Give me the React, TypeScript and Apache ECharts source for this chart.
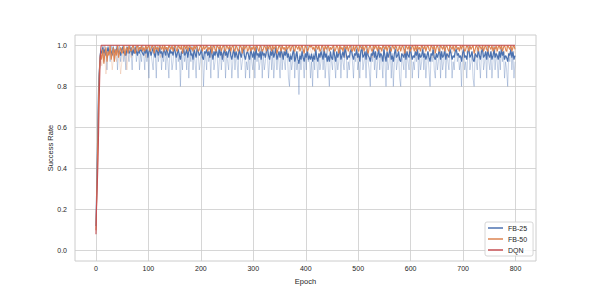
import React, { useEffect, useRef } from "react";
import * as echarts from "echarts";

// x positions: every epoch during the initial ramp, then every 2nd / 4th epoch
const rampEpochs = [0, 1, 2, 3, 4, 5, 6, 7, 8, 9, 10];
const epochsStep2 = Array.from({ length: 395 }, (_, i) => 11 + 2 * i);
const epochsStep4 = Array.from({ length: 198 }, (_, i) => 11 + 4 * i);

const xTicks = [0, 100, 200, 300, 400, 500, 600, 700, 800];
const yTicks = [0, 0.2, 0.4, 0.6, 0.8, 1.0];

// ramp values (success rate) for epochs 0..10
const fb25Ramp = [0.12, 0.25, 0.38, 0.52, 0.66, 0.8, 0.86, 0.9, 0.95, 0.97, 0.96];
const fb50Ramp = [0.1, 0.22, 0.35, 0.48, 0.6, 0.74, 0.84, 0.9, 0.94, 0.96, 0.93];

// DQN: ramp then flat at 1.0
const dqnEpochs = [0, 1, 2, 3, 4, 5, 6, 7, 8, 9, 10, 799];
const dqnRate = [0.08, 0.2, 0.28, 0.36, 0.45, 0.58, 0.72, 0.83, 0.93, 0.98, 1.0, 1.0];

// FB-25 (percent) at epochsStep2
const fb25Main = [
  97, 99, 96, 98, 95, 97, 99, 96, 98, 97, 95, 99, 97, 96, 98, 99, 96, 97, 95, 98,
  99, 96, 97, 95, 98, 99, 96, 97, 99, 95, 98, 96, 99, 97, 95, 98, 96, 99, 97, 96,
  95, 98, 96, 99, 94, 97, 98, 95, 97, 99, 96, 94, 98, 97, 95, 99, 96, 97, 94, 98,
  97, 95, 99, 96, 94, 98, 96, 97, 95, 99, 97, 94, 96, 98, 95, 93, 97, 96, 99, 95,
  96, 98, 94, 97, 99, 95, 96, 93, 98, 96, 94, 99, 97, 95, 96, 98, 94, 93, 97, 96,
  98, 95, 97, 94, 99, 96, 93, 97, 95, 98, 96, 94, 99, 95, 97, 93, 96, 98, 95, 97,
  94, 97, 99, 95, 93, 96, 98, 94, 97, 95, 93, 98, 96, 94, 97, 99, 95, 93, 96, 97,
  95, 93, 98, 96, 94, 97, 93, 99, 95, 96, 94, 97, 93, 98, 95, 96, 94, 97, 99, 95,
  93, 97, 95, 98, 94, 96, 99, 93, 95, 97, 94, 98, 96, 93, 97, 95, 98, 94, 96, 92,
  95, 93, 96, 98, 92, 94, 97, 93, 91, 95, 93, 97, 94, 92, 96, 94, 98, 93, 95, 93,
  96, 92, 95, 93, 98, 94, 92, 96, 94, 97, 95, 93, 98, 94, 96, 92, 95, 92, 97, 94,
  93, 98, 95, 92, 97, 94, 96, 98, 93, 95, 97, 94, 99, 96, 93, 95, 94, 97, 98, 95,
  93, 96, 95, 98, 94, 96, 92, 97, 99, 94, 95, 97, 93, 98, 95, 94, 92, 96, 95, 98,
  94, 97, 93, 95, 98, 94, 96, 95, 92, 98, 95, 92, 97, 94, 96, 99, 93, 95, 92, 96,
  98, 94, 95, 97, 93, 92, 96, 95, 94, 98, 93, 97, 95, 94, 99, 96, 93, 95, 94, 97,
  95, 98, 93, 96, 94, 95, 98, 94, 96, 93, 95, 97, 94, 92, 96, 95, 98, 94, 93, 96,
  94, 96, 98, 93, 97, 94, 95, 98, 93, 96, 95, 94, 98, 96, 93, 95, 94, 97, 98, 95,
  96, 94, 95, 92, 96, 98, 94, 95, 93, 97, 98, 94, 95, 97, 93, 92, 96, 95, 94, 98,
  95, 93, 97, 98, 94, 95, 97, 93, 98, 95, 94, 97, 93, 95, 98, 94, 96, 95, 93, 97,
  94, 98, 95, 97, 93, 95, 94, 92, 96, 95, 98, 94, 97, 93, 95,
];

// FB-25 per-epoch raw (percent) at epochsStep2
const fb25Raw = [
  96, 100, 92, 100, 96, 88, 100, 96, 92, 100, 96, 100, 92, 96, 100, 88, 96, 100, 92, 96,
  100, 92, 96, 88, 100, 96, 92, 100, 96, 88, 100, 96, 100, 92, 96, 100, 88, 96, 92, 100,
  96, 88, 100, 92, 96, 84, 100, 96, 92, 88, 100, 96, 84, 100, 92, 96, 100, 88, 96, 92,
  100, 88, 96, 92, 84, 100, 96, 88, 92, 100, 96, 88, 100, 92, 96, 80, 96, 88, 100, 92,
  96, 88, 100, 84, 96, 92, 100, 88, 96, 92, 84, 100, 96, 88, 92, 100, 96, 80, 92, 96,
  88, 100, 92, 96, 84, 100, 96, 88, 92, 100, 96, 84, 92, 100, 88, 96, 92, 100, 84, 96,
  92, 88, 100, 96, 84, 92, 100, 88, 96, 92, 84, 100, 96, 88, 92, 96, 100, 84, 92, 88,
  96, 84, 100, 92, 88, 96, 84, 100, 92, 96, 88, 92, 100, 84, 96, 88, 92, 100, 96, 84,
  92, 100, 88, 96, 84, 92, 100, 88, 96, 92, 84, 100, 88, 96, 92, 88, 100, 96, 84, 80,
  96, 88, 92, 100, 84, 96, 88, 92, 76, 96, 88, 100, 92, 84, 96, 88, 100, 92, 96, 84,
  92, 80, 96, 88, 100, 92, 84, 96, 88, 92, 100, 88, 96, 84, 92, 100, 88, 80, 96, 92,
  88, 100, 92, 84, 96, 88, 92, 100, 84, 96, 92, 88, 100, 96, 84, 92, 88, 96, 100, 92,
  84, 96, 92, 100, 88, 92, 84, 96, 100, 88, 92, 96, 84, 100, 92, 88, 80, 96, 92, 100,
  88, 96, 84, 92, 100, 88, 96, 92, 84, 100, 92, 80, 96, 88, 92, 100, 84, 96, 80, 92,
  100, 88, 92, 96, 84, 80, 96, 92, 88, 100, 84, 96, 92, 88, 100, 96, 84, 92, 88, 96,
  92, 100, 84, 96, 88, 92, 100, 88, 96, 84, 92, 96, 88, 80, 96, 92, 100, 88, 84, 96,
  88, 92, 100, 84, 96, 88, 92, 100, 84, 96, 92, 88, 100, 96, 84, 92, 88, 96, 100, 92,
  96, 88, 92, 80, 96, 100, 88, 92, 84, 96, 100, 88, 92, 96, 84, 80, 96, 92, 88, 100,
  92, 84, 96, 100, 88, 92, 96, 84, 100, 92, 88, 96, 84, 92, 100, 88, 96, 92, 84, 96,
  88, 100, 92, 96, 84, 92, 88, 80, 96, 92, 100, 88, 96, 84, 92,
];

// FB-50 (percent) at epochsStep2
const fb50Main = [
  94, 98, 91, 96, 99, 92, 97, 95, 100, 93, 96, 99, 92, 98, 95, 100, 94, 97, 99, 96,
  97, 100, 95, 98, 99, 96, 100, 98, 97, 99, 100, 98, 96, 99, 100, 97, 99, 98, 100, 97,
  99, 97, 100, 98, 99, 100, 97, 98, 100, 99, 96, 100, 98, 99, 97, 100, 99, 98, 100, 97,
  100, 98, 99, 97, 100, 99, 98, 100, 97, 99, 100, 98, 97, 100, 99, 98, 100, 96, 99, 100,
  98, 100, 97, 99, 100, 98, 99, 97, 100, 98, 100, 99, 97, 98, 100, 99, 97, 100, 98, 99,
  100, 97, 99, 98, 100, 96, 99, 100, 98, 97, 100, 99, 98, 100, 97, 99, 100, 98, 97, 100,
  99, 98, 100, 97, 99, 100, 98, 97, 100, 99, 97, 98, 100, 99, 96, 100, 98, 99, 100, 97,
  98, 100, 97, 99, 98, 100, 97, 99, 100, 98, 97, 100, 99, 97, 98, 100, 99, 97, 100, 98,
  100, 99, 97, 100, 98, 99, 100, 96, 98, 100, 99, 97, 100, 98, 99, 97, 100, 98, 99, 100,
  97, 99, 100, 98, 97, 100, 99, 98, 100, 97, 99, 100, 98, 96, 100, 99, 97, 98, 100, 99,
  100, 98, 99, 97, 100, 99, 98, 100, 97, 98, 100, 99, 97, 100, 98, 99, 100, 97, 99, 98,
  99, 100, 97, 98, 100, 99, 96, 100, 98, 99, 97, 100, 99, 98, 100, 97, 99, 100, 98, 97,
  100, 97, 99, 100, 98, 97, 100, 99, 98, 100, 97, 99, 100, 98, 96, 99, 100, 98, 97, 100,
  98, 100, 99, 97, 100, 98, 99, 97, 100, 99, 98, 100, 97, 99, 100, 98, 97, 100, 99, 98,
  100, 99, 97, 98, 100, 97, 99, 100, 98, 96, 100, 99, 98, 100, 97, 98, 100, 99, 97, 100,
  97, 100, 98, 99, 97, 100, 99, 98, 100, 97, 99, 100, 98, 97, 100, 99, 98, 100, 96, 99,
  100, 98, 97, 100, 99, 98, 100, 97, 99, 100, 98, 97, 100, 99, 98, 100, 97, 99, 100, 98,
  99, 97, 100, 98, 100, 99, 97, 98, 100, 99, 97, 100, 98, 99, 100, 96, 98, 100, 99, 97,
  100, 99, 98, 100, 97, 99, 100, 98, 97, 100, 99, 98, 100, 97, 99, 98, 100, 97, 99, 100,
  98, 100, 97, 99, 100, 98, 97, 100, 99, 98, 100, 97, 99, 100, 98,
];

// FB-50 per-epoch raw (percent) at epochsStep4
const fb50Raw = [
  90, 100, 86, 96, 100, 88, 98, 92, 100, 86,
  96, 100, 88, 100, 94, 100, 96, 100, 98, 100,
  100, 94, 100, 98, 100, 96, 100, 100, 94, 100,
  100, 96, 100, 98, 100, 100, 96, 100, 98, 100,
  96, 100, 100, 98, 100, 96, 100, 100, 98, 100,
  100, 98, 94, 100, 96, 100, 100, 98, 94, 100,
  98, 100, 96, 100, 100, 94, 100, 98, 100, 96,
  100, 96, 100, 98, 100, 96, 98, 100, 94, 100,
  98, 100, 96, 100, 98, 100, 94, 98, 100, 96,
  100, 98, 100, 94, 98, 100, 96, 100, 98, 100,
  96, 100, 98, 100, 94, 100, 98, 96, 100, 98,
  100, 96, 100, 98, 100, 98, 94, 100, 96, 100,
  98, 100, 94, 100, 98, 96, 100, 98, 100, 94,
  100, 98, 100, 96, 100, 98, 100, 94, 98, 100,
  96, 100, 98, 100, 94, 100, 96, 100, 98, 100,
  100, 94, 100, 98, 96, 100, 98, 100, 94, 98,
  100, 98, 96, 100, 98, 94, 100, 96, 100, 98,
  98, 100, 94, 100, 96, 100, 98, 100, 94, 100,
  100, 96, 100, 98, 100, 94, 98, 100, 96, 100,
  98, 100, 96, 100, 94, 98, 100, 96,
];

const BLUE = "#4C72B0";
const ORANGE = "#DD8452";
const RED = "#C44E52";
const TEXT = "#262626";
const GRIDC = "#cccccc";
const FONT = "'Liberation Sans', Arial, sans-serif";

function toPairs(ramp: number[], epochs: number[], vals: number[]) {
  const a = rampEpochs.map((e, i) => [e, ramp[i]]);
  const b = epochs.map((e, i) => [e, vals[i] / 100]);
  return a.concat(b);
}

export default function App() {
  const ref = useRef<HTMLDivElement>(null);
  useEffect(() => {
    if (!ref.current) return;
    const chart = echarts.init(ref.current, undefined, { renderer: "svg" });
    chart.setOption({
      animation: false,
      backgroundColor: "#ffffff",
      grid: {
        left: 75,
        top: 35,
        width: 461,
        height: 226,
        show: true,
        borderColor: GRIDC,
        borderWidth: 1,
        backgroundColor: "transparent",
      },
      xAxis: {
        type: "value",
        min: -40,
        max: 839,
        name: "Epoch",
        nameLocation: "middle",
        nameGap: 16,
        nameMoveOverlap: false,
        nameTextStyle: { color: TEXT, fontSize: 7.5, fontFamily: FONT },
        axisLine: { show: false },
        axisTick: { show: false, customValues: xTicks },
        axisLabel: {
          customValues: xTicks,
          margin: 4,
          color: TEXT,
          fontSize: 7,
          fontFamily: FONT,
        },
        splitLine: { show: true, lineStyle: { color: GRIDC, width: 0.8 } },
      },
      yAxis: {
        type: "value",
        min: -0.05,
        max: 1.05,
        name: "Success Rate",
        nameLocation: "middle",
        nameGap: 21,
        nameMoveOverlap: false,
        nameTextStyle: { color: TEXT, fontSize: 7.5, fontFamily: FONT },
        axisLine: { show: false },
        axisTick: { show: false, customValues: yTicks },
        axisLabel: {
          customValues: yTicks,
          margin: 8,
          color: TEXT,
          fontSize: 7,
          fontFamily: FONT,
          formatter: (v: number) => v.toFixed(1),
        },
        splitLine: { show: true, lineStyle: { color: GRIDC, width: 0.8 } },
      },
      legend: {
        data: ["FB-25", "FB-50", "DQN"],
        orient: "vertical",
        left: 485,
        top: 222,
        icon: "rect",
        itemWidth: 15,
        itemHeight: 1.5,
        itemGap: 3,
        padding: [2, 6, 2, 3],
        backgroundColor: "rgba(255,255,255,0.85)",
        borderColor: GRIDC,
        borderWidth: 0.8,
        borderRadius: 2,
        textStyle: { color: TEXT, fontSize: 7, fontFamily: FONT, lineHeight: 8 },
      },
      series: [
        {
          name: "FB-25 raw",
          type: "line",
          data: toPairs(fb25Ramp, epochsStep2, fb25Raw),
          showSymbol: false,
          color: BLUE,
          lineStyle: { width: 0.8, opacity: 0.4 },
          silent: true,
          z: 1,
        },
        {
          name: "FB-50 raw",
          type: "line",
          data: toPairs(fb50Ramp, epochsStep4, fb50Raw),
          showSymbol: false,
          color: ORANGE,
          lineStyle: { width: 0.8, opacity: 0.3 },
          silent: true,
          z: 1,
        },
        {
          name: "FB-25",
          type: "line",
          data: toPairs(fb25Ramp, epochsStep2, fb25Main),
          showSymbol: false,
          color: BLUE,
          lineStyle: { width: 1.2 },
          z: 2,
        },
        {
          name: "FB-50",
          type: "line",
          data: toPairs(fb50Ramp, epochsStep2, fb50Main),
          showSymbol: false,
          color: ORANGE,
          lineStyle: { width: 1.1 },
          z: 3,
        },
        {
          name: "DQN",
          type: "line",
          data: dqnEpochs.map((e, i) => [e, dqnRate[i]]),
          showSymbol: false,
          color: RED,
          lineStyle: { width: 1.1 },
          z: 4,
        },
      ],
    });
    return () => chart.dispose();
  }, []);
  return <div ref={ref} style={{ width: 596, height: 298, position: "absolute", left: 0, top: 0 }} />;
}
